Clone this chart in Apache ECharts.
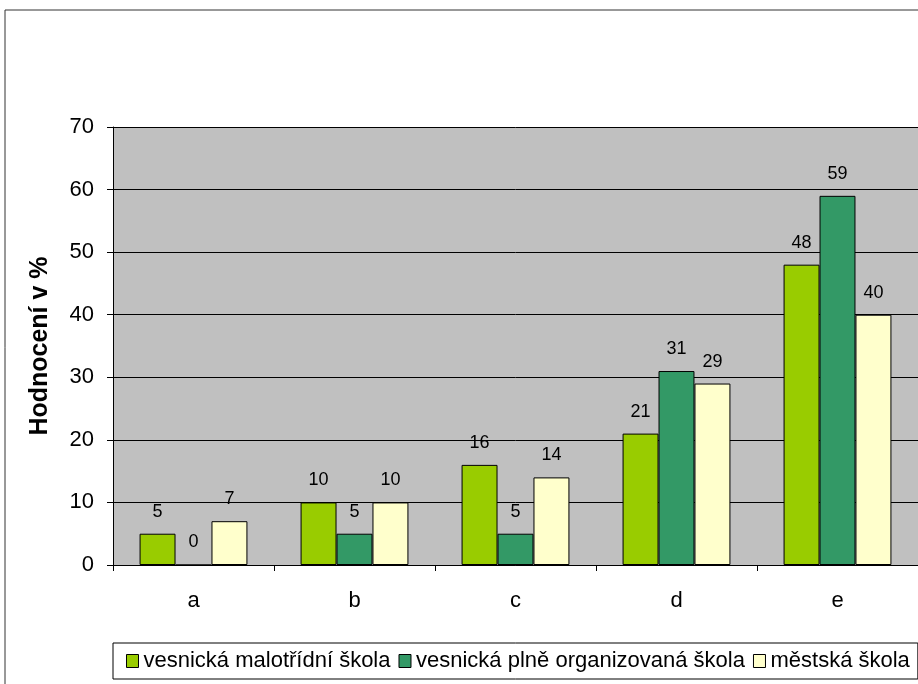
<!DOCTYPE html>
<html>

<head>
  <meta charset="utf-8">
  <script src="https://cdn.jsdelivr.net/npm/echarts@6/dist/echarts.min.js"></script>
  <style>
    body {
      margin: 0;
      background: #fff;
    }

    #chart {
      width: 918px;
      height: 684px;
    }
  </style>
</head>

<body>
  <div id="chart"></div>
  <script>
    const categories = ['a', 'b', 'c', 'd', 'e']
    const seriesNames = ['vesnická malotřídní škola', 'vesnická plně organizovaná škola', 'městská škola']
    const malotridni = [5, 10, 16, 21, 48]
    const plneOrg = [0, 5, 5, 31, 59]
    const mestska = [7, 10, 14, 29, 40]
    const colors = ['#99CC00', '#339966', '#FFFFCC']

    const font = 'Liberation Sans, Arial, sans-serif'

    function makeSeries(name, data, color) {
      return {
        name: name,
        type: 'bar',
        data: data,
        barGap: '0%',
        barCategoryGap: '33%',
        itemStyle: {
          color: color,
          borderColor: '#000',
          borderWidth: 1
        },
        label: {
          show: true,
          position: 'top',
          distance: 13,
          color: '#000',
          fontFamily: font,
          fontSize: 18
        }
      }
    }

    const option = {
      animation: false,
      backgroundColor: '#fff',
      // outer chart frame
      graphic: [{
        type: 'rect',
        shape: { x: 5, y: 10, width: 1000, height: 1000 },
        style: { fill: 'none', stroke: '#333', lineWidth: 1 },
        z: -1
      }],
      grid: {
        left: 113,
        top: 127,
        right: 0,
        bottom: 119,
        show: true,
        backgroundColor: '#C0C0C0',
        borderWidth: 0
      },
      legend: {
        left: 113,
        top: 643,
        padding: [7, 8, 7, 13],
        borderColor: '#000',
        borderWidth: 1,
        itemWidth: 12,
        itemHeight: 13,
        itemGap: 8,
        icon: 'rect',
        textStyle: {
          fontFamily: font,
          fontSize: 22,
          color: '#000'
        },
        data: seriesNames.map((n, i) => ({
          name: n,
          itemStyle: { color: colors[i], borderColor: '#000', borderWidth: 1 }
        }))
      },
      xAxis: {
        type: 'category',
        data: categories,
        axisLine: { lineStyle: { color: '#000' } },
        axisTick: { show: true, length: 6, lineStyle: { color: '#000' } },
        axisLabel: {
          margin: 25,
          color: '#000',
          fontFamily: font,
          fontSize: 22
        }
      },
      yAxis: {
        type: 'value',
        min: 0,
        max: 70,
        interval: 10,
        name: 'Hodnocení v %',
        nameLocation: 'middle',
        nameGap: 60,
        nameTextStyle: {
          fontFamily: font,
          fontSize: 25,
          fontWeight: 'bold',
          color: '#000'
        },
        axisLine: { show: true, lineStyle: { color: '#000' } },
        axisTick: { show: true, length: 6, lineStyle: { color: '#000' } },
        axisLabel: {
          margin: 19,
          color: '#000',
          fontFamily: font,
          fontSize: 22
        },
        splitLine: { lineStyle: { color: '#000', width: 1 } }
      },
      series: [
        makeSeries(seriesNames[0], malotridni, colors[0]),
        makeSeries(seriesNames[1], plneOrg, colors[1]),
        makeSeries(seriesNames[2], mestska, colors[2])
      ]
    }

    const chart = echarts.init(document.getElementById('chart'))
    chart.setOption(option)
  </script>
</body>

</html>
